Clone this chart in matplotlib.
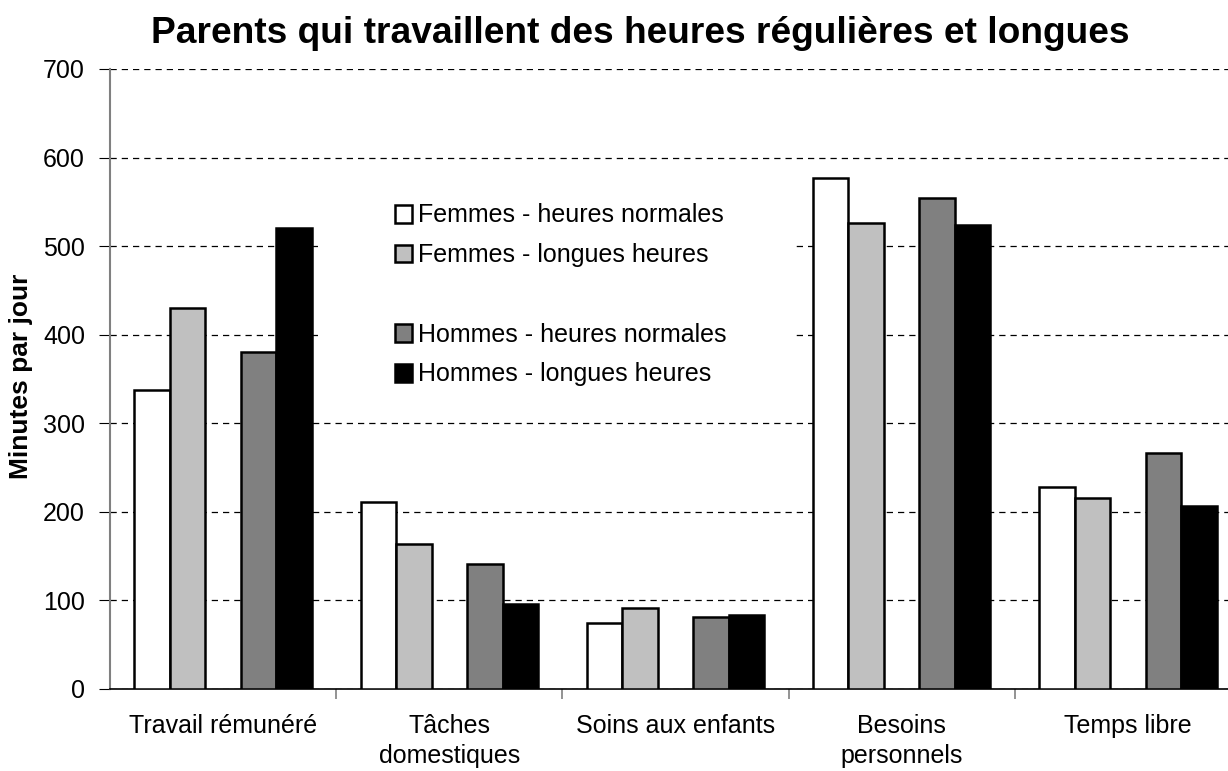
import matplotlib.pyplot as plt
from matplotlib.patches import Patch, Rectangle
import numpy as np

plt.rcParams['font.family'] = ['Liberation Sans', 'DejaVu Sans']

categories = ["Travail rémunéré", "Tâches\ndomestiques", "Soins aux enfants",
              "Besoins\npersonnels", "Temps libre"]
femmes_normales = [338, 211, 75, 577, 228]
femmes_longues = [430, 164, 92, 526, 216]
hommes_normales = [381, 141, 81, 554, 267]
hommes_longues = [521, 96, 83, 524, 207]

series = [
    ("Femmes - heures normales", femmes_normales, "white", -2),
    ("Femmes - longues heures", femmes_longues, "#c0c0c0", -1),
    ("Hommes - heures normales", hommes_normales, "#808080", 1),
    ("Hommes - longues heures", hommes_longues, "black", 2),
]

fig = plt.figure(figsize=(12.28, 7.71), dpi=100)
ax = fig.add_axes([110 / 1228, 1 - 689 / 771, 1131 / 1228, 620 / 771])

x = np.arange(len(categories)) + 0.5
w = 0.157
for label, vals, col, slot in series:
    ax.bar(x + slot * w, vals, w, color=col, edgecolor="black",
           linewidth=1.8, label=label, zorder=3)

ax.set_xlim(0, len(categories))
ax.set_ylim(0, 700)
ax.set_yticks(range(0, 701, 100))
ax.yaxis.grid(True, linestyle=(0, (5, 4)), color="black", linewidth=0.9, zorder=0)

# category boundaries as major ticks, names as minor ticks
ax.set_xticks(np.arange(1, len(categories)))
ax.set_xticklabels([])
ax.set_xticks(x, minor=True)
ax.set_xticklabels(categories, minor=True, fontsize=18, linespacing=1.3)
ax.tick_params(axis="x", which="minor", length=0, pad=18)
ax.tick_params(axis="x", which="major", length=7, color="#808080", width=1.2)
ax.tick_params(axis="y", length=8, pad=10, labelsize=18, color="black")

for s in ["top", "right"]:
    ax.spines[s].set_visible(False)
ax.spines["left"].set_color("#808080")
ax.spines["left"].set_linewidth(1.5)
ax.spines["bottom"].set_color("black")
ax.spines["bottom"].set_linewidth(1.2)

ax.set_ylabel("Minutes par jour", fontsize=19, fontweight="bold")
ax.yaxis.set_label_coords(-77 / 1131, (689 - 376) / 620)
fig.text(640 / 1228, 1 - 43 / 771, "Parents qui travaillent des heures régulières et longues",
         ha="center", va="baseline", fontsize=26.7, fontweight="bold")

# white legend area hiding the gridlines
ax.add_patch(Rectangle((0.184, 0.466), 0.419, 0.355, transform=ax.transAxes,
                       facecolor="white", edgecolor="none", zorder=2))

h, l = ax.get_legend_handles_labels()
blank = Patch(facecolor="none", edgecolor="none")
handles = [h[0], h[1], blank, h[2], h[3]]
labels = [l[0], l[1], "", l[2], l[3]]
leg = ax.legend(handles, labels, loc="upper left", bbox_to_anchor=(372 / 1228, 1 - 181 / 771),
                bbox_transform=fig.transFigure, frameon=False, fontsize=18,
                handlelength=0.7, handleheight=0.7, handletextpad=0.25,
                labelspacing=0.63, borderpad=0.4)
leg.set_zorder(5)

fig.savefig("out.png", dpi=100)
